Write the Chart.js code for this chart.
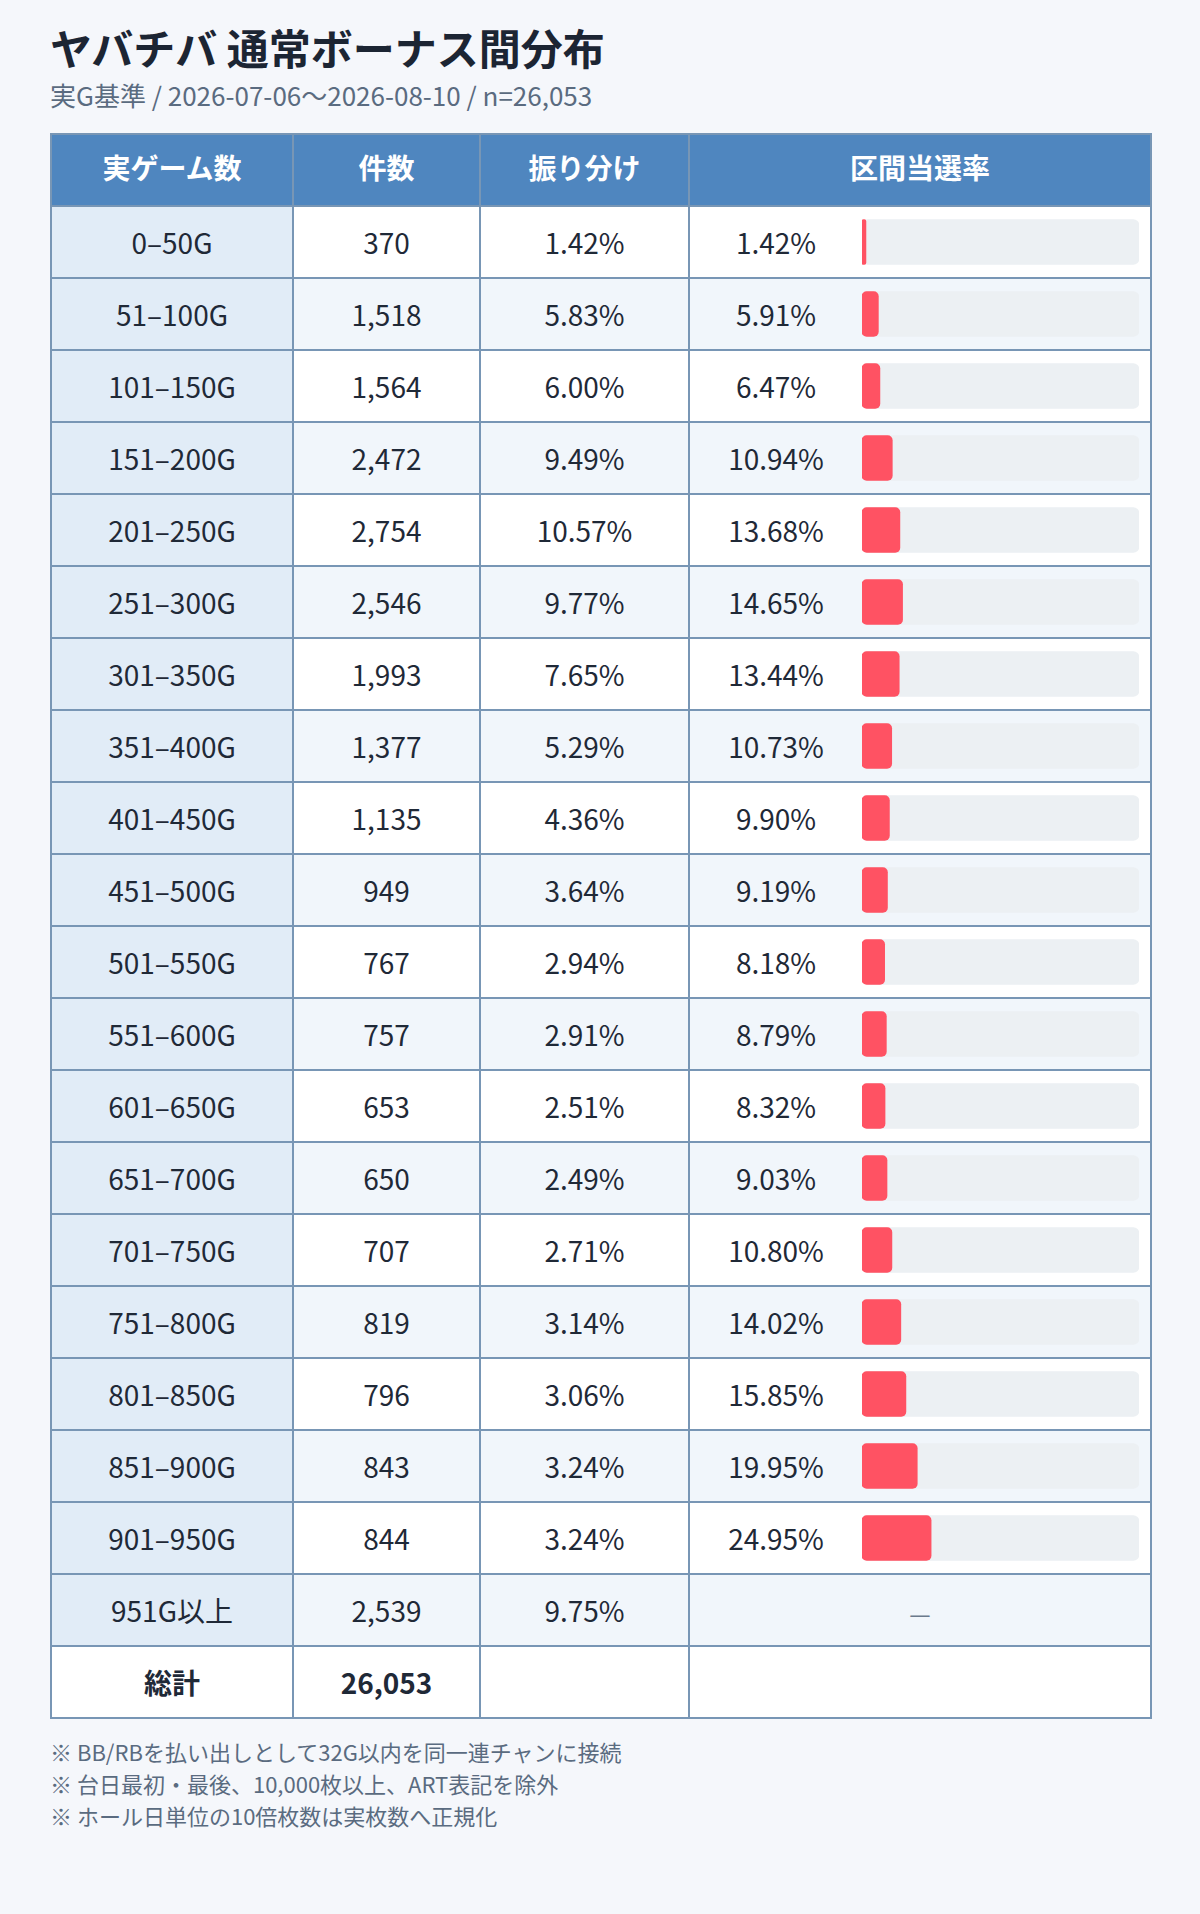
<!DOCTYPE html>
<html lang="ja">
<head>
<meta charset="utf-8">
<script src="https://cdn.jsdelivr.net/npm/chart.js@4.4.1/dist/chart.umd.min.js"></script>
<style>
  html, body { margin: 0; padding: 0; }
  body {
    width: 1200px; height: 1914px; background: #f5f7fb;
    font-family: "Noto Sans CJK JP", "Noto Sans", sans-serif;
    color: #1f2937; position: relative; overflow: hidden;
  }
  .title {
    position: absolute; left: 50px; top: 22px; margin: 0;
    font-size: 42px; line-height: 50px; font-weight: 700; color: #1c2533;
    white-space: nowrap;
  }
  .subtitle {
    position: absolute; left: 50px; top: 79px; margin: 0;
    font-size: 26px; line-height: 32px; color: #5a6b80; white-space: nowrap;
  }
  .wrap { position: absolute; left: 50px; top: 133px; }
  .grid {
    display: grid;
    grid-template-columns: 240px 185px 207px 460px;
    grid-auto-rows: 70px;
    gap: 2px; padding: 2px; background: #7896b5;
  }
  .c {
    display: flex; align-items: center; justify-content: center;
    font-size: 28px; background: #ffffff; white-space: nowrap; box-sizing: border-box;
  }
  .h { background: #4f86bf; color: #ffffff; font-weight: 700; padding-bottom: 6px; }
  .c.k { background: #e1ecf7; }
  .c.alt { background: #f1f6fb; }
  .c.rate { justify-content: flex-start; }
  .c.rate span { display: block; width: 172px; text-align: center; }
  .c.dash { color: #6b7a8c; font-size: 24px; padding-top: 4px; }
  .c.tot { font-weight: 700; background: #ffffff; }
  .chartBox { position: absolute; left: 640px; top: 73px; width: 460px; height: 1440px; }
  .notes {
    position: absolute; left: 50px; top: 1735px; margin: 0;
    font-size: 22px; line-height: 32px; color: #5a6b80; white-space: nowrap;
  }
</style>
</head>
<body>
<h1 class="title">ヤバチバ 通常ボーナス間分布</h1>
<div class="subtitle">実G基準 / 2026-07-06〜2026-08-10 / n=26,053</div>
<div class="wrap">
  <div class="grid" id="grid"></div>
  <div class="chartBox"><canvas id="bars"></canvas></div>
</div>
<div class="notes" id="notes"></div>
<script>
const headers = ['実ゲーム数', '件数', '振り分け', '区間当選率'];
const categories = ['0–50G','51–100G','101–150G','151–200G','201–250G','251–300G','301–350G','351–400G','401–450G','451–500G','501–550G','551–600G','601–650G','651–700G','701–750G','751–800G','801–850G','851–900G','901–950G','951G以上'];
const counts = [370,1518,1564,2472,2754,2546,1993,1377,1135,949,767,757,653,650,707,819,796,843,844,2539];
const shares = [1.42,5.83,6.00,9.49,10.57,9.77,7.65,5.29,4.36,3.64,2.94,2.91,2.51,2.49,2.71,3.14,3.06,3.24,3.24,9.75];
const rates = [1.42,5.91,6.47,10.94,13.68,14.65,13.44,10.73,9.90,9.19,8.18,8.79,8.32,9.03,10.80,14.02,15.85,19.95,24.95,null];
const totalLabel = '総計';
const total = 26053;
const rateMax = 100;
const notes = [
  '※ BB/RBを払い出しとして32G以内を同一連チャンに接続',
  '※ 台日最初・最後、10,000枚以上、ART表記を除外',
  '※ ホール日単位の10倍枚数は実枚数へ正規化'
];

const fmt = n => n.toLocaleString('en-US');
const grid = document.getElementById('grid');
function cell(text, cls) {
  const d = document.createElement('div');
  d.className = 'c ' + cls;
  if (cls.indexOf('rate') >= 0) {
    const s = document.createElement('span');
    s.textContent = text;
    d.appendChild(s);
  } else {
    d.textContent = text;
  }
  grid.appendChild(d);
}
headers.forEach(h => cell(h, 'h'));
categories.forEach((cat, i) => {
  const alt = i % 2 === 1 ? ' alt' : '';
  cell(cat, 'k');
  cell(fmt(counts[i]), alt);
  cell(shares[i].toFixed(2) + '%', alt);
  if (rates[i] == null) cell('—', 'dash' + alt);
  else cell(rates[i].toFixed(2) + '%', 'rate' + alt);
});
cell(totalLabel, 'tot');
cell(fmt(total), 'tot');
cell('', 'tot');
cell('', 'tot');

document.getElementById('notes').innerHTML = notes.map(n => '<div>' + n + '</div>').join('');

new Chart(document.getElementById('bars'), {
  type: 'bar',
  data: {
    labels: categories,
    datasets: [
      {
        data: rates,
        backgroundColor: '#ff5263',
        borderRadius: 5,
        borderSkipped: false,
        barThickness: 45,
        grouped: false,
        order: 0
      },
      {
        data: rates.map(r => r == null ? null : rateMax),
        backgroundColor: '#ecf0f3',
        borderRadius: 6,
        borderSkipped: false,
        barThickness: 45,
        grouped: false,
        order: 1
      }
    ]
  },
  options: {
    indexAxis: 'y',
    responsive: true,
    maintainAspectRatio: false,
    animation: false,
    layout: { padding: { left: 172, right: 11, top: 0, bottom: 0 } },
    scales: {
      x: { display: false, min: 0, max: rateMax },
      y: { display: false }
    },
    plugins: { legend: { display: false }, tooltip: { enabled: false } }
  }
});
</script>
</body>
</html>
